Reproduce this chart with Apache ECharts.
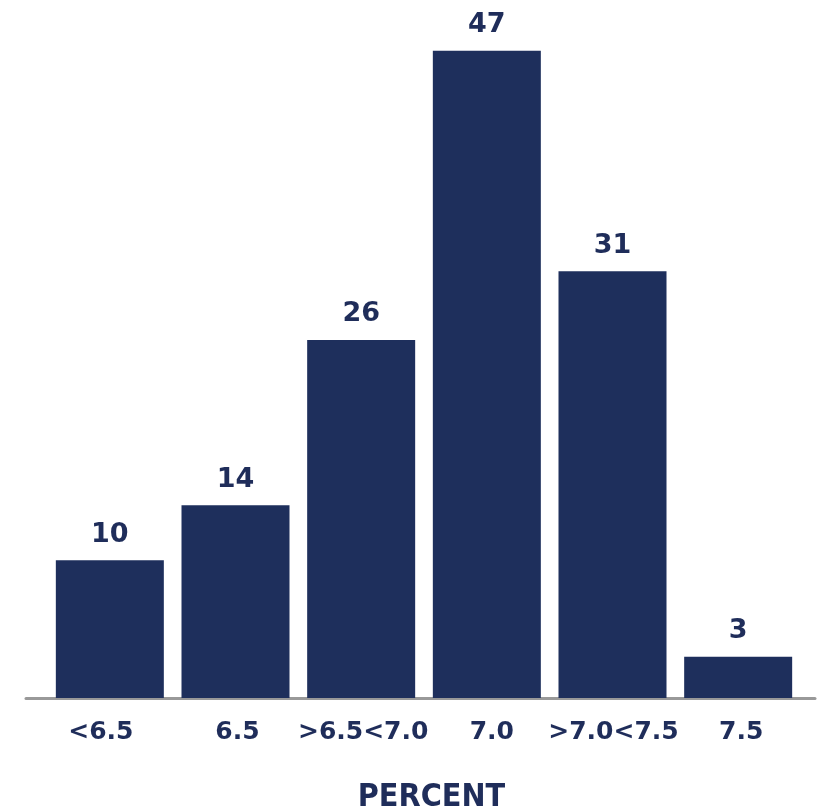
<!DOCTYPE html>
<html>
<head>
<meta charset="utf-8">
<script src="https://cdn.jsdelivr.net/npm/echarts@6/dist/echarts.min.js"></script>
<style>
html,body{margin:0;padding:0;background:#fff;}
#chart{width:823px;height:812px;}
</style>
</head>
<body>
<div id="chart"></div>
<script>
var categories = ['<6.5', '6.5', '>6.5<7.0', '7.0', '>7.0<7.5', '7.5'];
var values = [10, 14, 26, 47, 31, 3];
var axisTitle = 'PERCENT';

// horizontal nudge (px) of each category label, as in the original typesetting
var labelNudge = [-9, 2, 2, 5, 1, 3];

var navy = '#1e2f5c';
var textNavy = '#1f2d5a';

var labelFont = {
  color: textNavy, fontFamily: '"DejaVu Sans", Verdana, sans-serif',
  fontWeight: 'bold', fontSize: 25
};
var rich = {};
labelNudge.forEach(function (n, i) {
  var s = Object.assign({}, labelFont);
  s.padding = n >= 0 ? [0, 0, 0, 2 * n] : [0, -2 * n, 0, 0];
  rich['c' + i] = s;
});

var chart = echarts.init(document.getElementById('chart'));
chart.setOption({
  animation: false,
  grid: [
    {left: 47, right: 22, top: 9.5, bottom: 114, outerBoundsMode: 'none', containLabel: false},
    {left: 26, right: 8, top: 9.5, bottom: 114, outerBoundsMode: 'none', containLabel: false}
  ],
  xAxis: [
    {
      type: 'category', gridIndex: 0, data: categories,
      axisLine: {show: false}, axisTick: {show: false},
      axisLabel: Object.assign({
        interval: 0, margin: 22, hideOverlap: false,
        formatter: function (v, i) { return '{c' + i + '|' + v + '}'; },
        rich: rich
      }, labelFont)
    },
    {
      type: 'category', gridIndex: 1, data: categories,
      axisLine: {show: true, lineStyle: {color: '#999999', width: 3}},
      axisTick: {show: false}, axisLabel: {show: false},
      name: axisTitle, nameLocation: 'middle', nameGap: 84,
      nameTextStyle: {
        color: textNavy, fontFamily: '"DejaVu Sans Condensed", "DejaVu Sans", sans-serif', fontWeight: 'bold', fontSize: 32,
        padding: [0, 0, 0, 22]
      }
    }
  ],
  yAxis: [
    {type: 'value', gridIndex: 0, min: 0, max: 50, show: false},
    {type: 'value', gridIndex: 1, min: 0, max: 50, show: false}
  ],
  series: [{
    type: 'bar', xAxisIndex: 0, yAxisIndex: 0, data: values,
    barWidth: 108,
    itemStyle: {color: navy},
    label: {
      show: true, position: 'top', distance: 12, color: textNavy,
      fontFamily: '"DejaVu Sans", Verdana, sans-serif', fontWeight: 'bold', fontSize: 27
    }
  }]
});
</script>
</body>
</html>
